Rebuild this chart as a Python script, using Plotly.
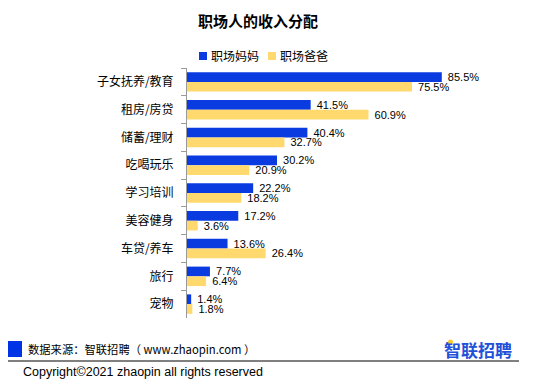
import plotly.graph_objects as go

categories = ["子女抚养/教育", "租房/房贷", "储蓄/理财", "吃喝玩乐", "学习培训", "美容健身", "车贷/养车", "旅行", "宠物"]
mom = [85.5, 41.5, 40.4, 30.2, 22.2, 17.2, 13.6, 7.7, 1.4]
dad = [75.5, 60.9, 32.7, 20.9, 18.2, 3.6, 26.4, 6.4, 1.8]
series_names = ["职场妈妈", "职场爸爸"]

BLUE = "#0A3BE0"
YELLOW = "#FFD86E"
FONT = "Noto Sans CJK SC"
OFF = 8  # page body margin
W, H = 531, 377
MT, MB = 10, 10
PH = H - MT - MB


def px(x):
    return (x - OFF) / W


def py(y):
    return (H - MB - (y - OFF)) / PH


fig = go.Figure()
for vals, name, col in [(mom, series_names[0], BLUE), (dad, series_names[1], YELLOW)]:
    fig.add_trace(go.Bar(y=categories, x=vals, name=name, orientation="h",
                         marker=dict(color=col, line=dict(width=0)),
                         text=[f"\u00a0{v}%" for v in vals], textposition="outside",
                         constraintext="none",
                         textfont=dict(size=11, color="#000", family="Liberation Sans"),
                         cliponaxis=False, showlegend=False))

fig.update_layout(
    width=W, height=H,
    margin=dict(l=0, r=0, t=MT, b=MB, autoexpand=False),
    paper_bgcolor="white", plot_bgcolor="white",
    font=dict(family=FONT, color="#000"),
    barmode="group", bargap=0.3, bargroupgap=0,
    title=dict(text="<b>职场人的收入分配</b>", xref="container", yref="container",
               x=(258 - OFF) / W, xanchor="center", y=(H - (22 - OFF)) / H, yanchor="middle",
               font=dict(size=15, color="#000")),
    xaxis=dict(domain=[px(187), px(485)], range=[0, 100], visible=False,
               showgrid=False, zeroline=False, automargin=False),
    yaxis=dict(domain=[py(318), py(68)], autorange="reversed", showline=True,
               linecolor="#9a9a9a", linewidth=1, automargin=False,
               ticks="outside", ticklen=5, tickcolor="#9a9a9a", tickson="boundaries",
               tickfont=dict(size=12, color="#000"), ticklabelstandoff=10,
               showgrid=False),
)

# manual legend
for x0, col, name in [(199, BLUE, series_names[0]), (268, YELLOW, series_names[1])]:
    fig.add_shape(type="rect", xref="paper", yref="paper",
                  x0=px(x0), x1=px(x0 + 8), y0=py(60), y1=py(52),
                  fillcolor=col, line=dict(width=0))
    fig.add_annotation(text=name, xref="paper", yref="paper",
                       x=px(x0 + 10), y=py(56), xanchor="left", yanchor="middle",
                       showarrow=False, font=dict(size=12, color="#000"))

# footer
fig.add_shape(type="rect", xref="paper", yref="paper",
              x0=px(7), x1=px(22), y0=py(357), y1=py(341),
              fillcolor="#0033E6", line=dict(width=0))
fig.add_annotation(text="数据来源：智联招聘（ www.zhaopin.com ）", xref="paper", yref="paper",
                   x=px(26), y=py(349), xanchor="left", yanchor="middle",
                   showarrow=False, font=dict(size=11.3, color="#000"))
fig.add_annotation(text="<b>智联招聘</b>", xref="paper", yref="paper",
                   x=px(514), y=py(349), xanchor="right", yanchor="middle",
                   showarrow=False, font=dict(size=17, color="#2350D8"))
fig.add_shape(type="circle", xref="paper", yref="paper",
              x0=px(448), x1=px(453), y0=py(344.5), y1=py(339.5),
              fillcolor="#FFC82E", line=dict(width=0))
fig.add_shape(type="line", xref="paper", yref="paper",
              x0=px(3), x1=px(519), y0=py(361), y1=py(361),
              line=dict(color="#000", width=1))
fig.add_annotation(text="Copyright©2021 zhaopin all rights reserved", xref="paper", yref="paper",
                   x=px(21), y=py(372), xanchor="left", yanchor="middle",
                   showarrow=False, font=dict(size=12.5, color="#000", family="Liberation Sans"))

fig.write_html("out.html")
